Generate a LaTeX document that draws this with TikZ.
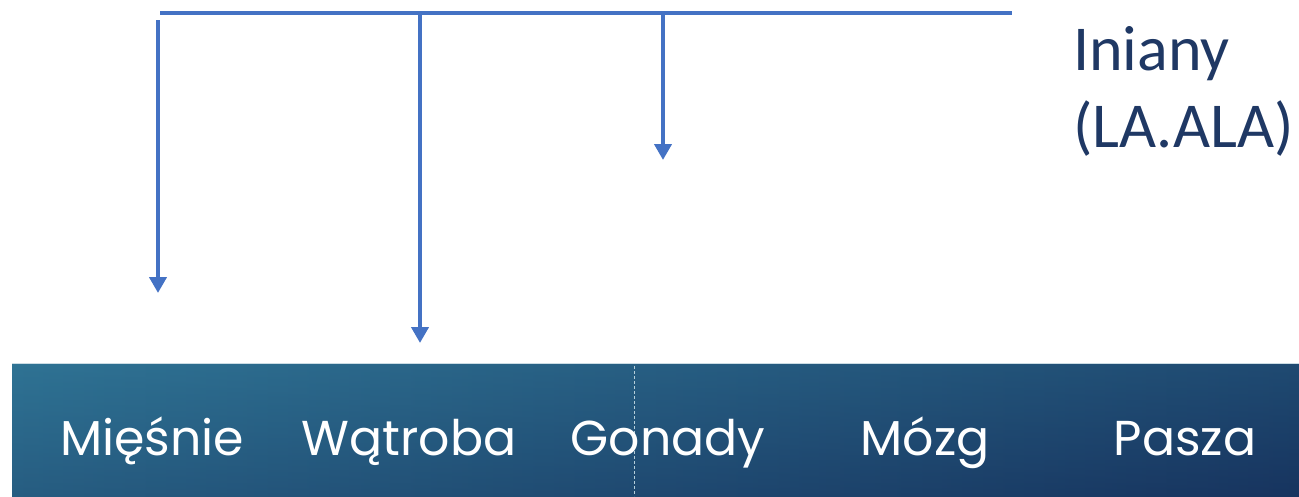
\documentclass[tikz,border=0pt]{standalone}
\usepackage{fontspec}
\setmainfont{Carlito}
\newfontfamily\bandfont{Poppins}
\usetikzlibrary{arrows.meta}
\definecolor{arrowblue}{HTML}{4472C4}
\definecolor{textnavy}{HTML}{1F3864}
\definecolor{bandteal}{HTML}{2F7394}
\definecolor{bandnavy}{HTML}{17345F}
\tikzstyle{link}=[draw=arrowblue,line width=4.5pt]
\tikzstyle{flow}=[link,-{Triangle[width=17pt,length=16pt]}]

\begin{document}
\begin{tikzpicture}[x=1pt,y=-1pt]
    \tikzstyle{organ}=[text=white,font=\bandfont\fontsize{49}{60}\selectfont,anchor=base,inner sep=0pt]
    \tikzstyle{source}=[text=textnavy,font=\fontsize{64}{77}\selectfont,align=left,anchor=base west,inner sep=0pt]
    \useasboundingbox (0,0) rectangle (1299,496);

    % band with the organs
    \shade[left color=bandteal,right color=bandnavy] (12,363) rectangle (1299,496);
    \shade[top color=bandteal,bottom color=bandnavy,opacity=0.35] (12,363) rectangle (1299,496);
    \draw[white!75!bandteal,line width=1pt] (12,363) -- (1299,363);
    \draw[white!65!bandteal,densely dashed,line width=0.8pt] (634,366) -- (634,496);

    \node[organ] (r0) at (152,455) {Mięśnie};
    \node[organ] (r1) at (409,455) {Wątroba};
    \node[organ] (r2) at (668,455) {Gonady};
    \node[organ] (r3) at (925,455) {Mózg};
    \node[organ] (r4) at (1185,455) {Pasza};

    \node[source] (src) at (1073,147) {Iniany\\(LA.ALA)};

    \coordinate (b0) at (160,13);
    \coordinate (b1) at (1012,13);
    \coordinate (j1) at (420,13);
    \coordinate (j2) at (663,13);
    \coordinate (s0) at (158,20);
    \coordinate (e0) at (158,293);
    \coordinate (e1) at (420,343);
    \coordinate (e2) at (663,160);

    \draw[link] (b0) -- (b1);
    \draw[flow] (s0) -- (e0);
    \draw[flow] (j1) -- (e1);
    \draw[flow] (j2) -- (e2);

\end{tikzpicture}
\end{document}
